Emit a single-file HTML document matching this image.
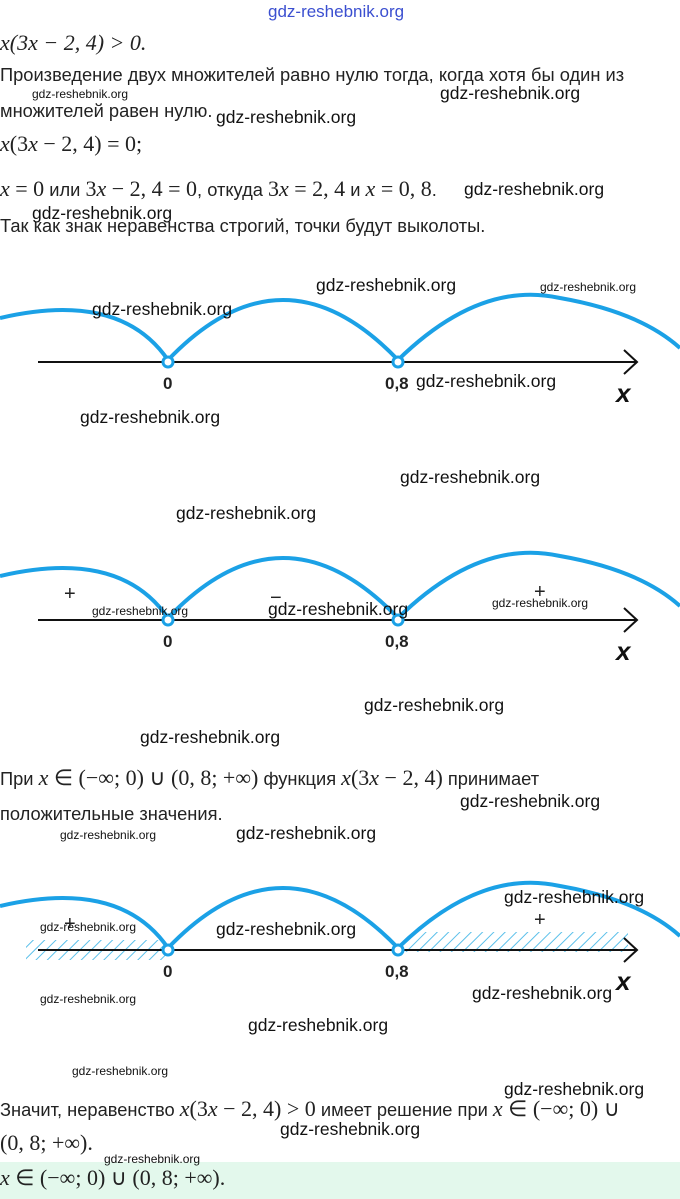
<!DOCTYPE html>
<html><head><meta charset="utf-8"><style>
body{margin:0;width:680px;height:1199px;background:#fff;position:relative;overflow:hidden;font-family:"Liberation Sans",sans-serif;color:#222}
.t{position:absolute;left:0;font-size:18.3px;white-space:nowrap}
.m{font-family:"Liberation Serif",serif;font-size:22px}
.w{position:absolute;font-family:"Liberation Sans",sans-serif;color:#111;white-space:nowrap}
.s{font-size:12px}.b{font-size:17.5px}
svg{position:absolute;left:0}
</style></head><body>
<div class="w" style="left:268px;top:2px;font-size:17px;color:#3b4fd0">gdz-reshebnik.org</div>
<div class="t m" style="top:30px;font-style:italic">x(3x − 2, 4) &gt; 0.</div>
<div class="t" style="top:64px">Произведение двух множителей равно нулю тогда, когда хотя бы один из</div>
<div class="t" style="top:100px">множителей равен нулю.</div>
<div class="t m" style="top:131px"><i>x</i>(3<i>x</i> − 2, 4) = 0;</div>
<div class="t" style="top:176px"><span class="m"><i>x</i> = 0</span> или <span class="m">3<i>x</i> − 2, 4 = 0</span>, откуда <span class="m">3<i>x</i> = 2, 4</span> и <span class="m"><i>x</i> = 0, 8</span>.</div>
<div class="t" style="top:215px">Так как знак неравенства строгий, точки будут выколоты.</div>

<svg width="680" height="1199" viewBox="0 0 680 1199">
<defs><pattern id="h" width="8" height="8" patternUnits="userSpaceOnUse" patternTransform="rotate(45)"><rect width="8" height="8" fill="#fff"/><line x1="0" y1="0" x2="0" y2="8" stroke="#5bc0ea" stroke-width="2"/></pattern></defs>
<g id="d">
<path d="M0 318 Q120 290 168 360" fill="none" stroke="#1ba1e6" stroke-width="4"/>
<path d="M168 360 Q283 240 398 360" fill="none" stroke="#1ba1e6" stroke-width="4"/>
<path d="M398 360 Q480 280 560 298 Q640 312 680 348" fill="none" stroke="#1ba1e6" stroke-width="4"/>
<line x1="38" y1="362" x2="636" y2="362" stroke="#111" stroke-width="2"/>
<path d="M624 350 L637 362 L624 374" fill="none" stroke="#111" stroke-width="2"/>
<circle cx="168" cy="362" r="5" fill="#fff" stroke="#1ba1e6" stroke-width="3"/>
<circle cx="398" cy="362" r="5" fill="#fff" stroke="#1ba1e6" stroke-width="3"/>
<text x="163" y="389" font-family="Liberation Sans" font-weight="bold" font-size="17" fill="#222">0</text>
<text x="385" y="389" font-family="Liberation Sans" font-weight="bold" font-size="17" fill="#222">0,8</text>
<text x="616" y="402" font-family="Liberation Sans" font-weight="bold" font-style="italic" font-size="26" fill="#111">x</text>
</g>
<g transform="translate(0,258)">
<use href="#d"/>
<text x="64" y="342" font-size="20" font-family="Liberation Sans" fill="#222">+</text>
<text x="270" y="346" font-size="20" font-family="Liberation Sans" fill="#222">−</text>
<text x="534" y="340" font-size="20" font-family="Liberation Sans" fill="#222">+</text>
</g>
<g transform="translate(0,588)">
<rect x="26" y="352" width="140" height="20" fill="url(#h)"/>
<rect x="404" y="344" width="224" height="20" fill="url(#h)"/>
<use href="#d"/>
<text x="64" y="342" font-size="20" font-family="Liberation Sans" fill="#222">+</text>
<text x="534" y="338" font-size="20" font-family="Liberation Sans" fill="#222">+</text>
</g>
</svg>

<div class="t" style="top:765px">При <span class="m"><i>x</i> ∈ (−∞; 0) ∪ (0, 8; +∞)</span> функция <span class="m"><i>x</i>(3<i>x</i> − 2, 4)</span> принимает</div>
<div class="t" style="top:803px">положительные значения.</div>
<div class="t" style="top:1096px">Значит, неравенство <span class="m"><i>x</i>(3<i>x</i> − 2, 4) &gt; 0</span> имеет решение при <span class="m"><i>x</i> ∈ (−∞; 0) ∪</span></div>
<div class="t m" style="top:1130px">(0, 8; +∞).</div>
<div style="position:absolute;left:0;top:1162px;width:680px;height:37px;background:#e3f8ec"></div>
<div class="t m" style="top:1165px"><i>x</i> ∈ (−∞; 0) ∪ (0, 8; +∞).</div>

<div class="w s" style="left:32px;top:87px">gdz-reshebnik.org</div>
<div class="w b" style="left:440px;top:83px">gdz-reshebnik.org</div>
<div class="w b" style="left:216px;top:107px">gdz-reshebnik.org</div>
<div class="w b" style="left:464px;top:179px">gdz-reshebnik.org</div>
<div class="w b" style="left:32px;top:203px">gdz-reshebnik.org</div>
<div class="w b" style="left:316px;top:275px">gdz-reshebnik.org</div>
<div class="w s" style="left:540px;top:280px">gdz-reshebnik.org</div>
<div class="w b" style="left:92px;top:299px">gdz-reshebnik.org</div>
<div class="w b" style="left:416px;top:371px">gdz-reshebnik.org</div>
<div class="w b" style="left:80px;top:407px">gdz-reshebnik.org</div>
<div class="w b" style="left:400px;top:467px">gdz-reshebnik.org</div>
<div class="w b" style="left:176px;top:503px">gdz-reshebnik.org</div>
<div class="w s" style="left:92px;top:604px">gdz-reshebnik.org</div>
<div class="w b" style="left:268px;top:599px">gdz-reshebnik.org</div>
<div class="w s" style="left:492px;top:596px">gdz-reshebnik.org</div>
<div class="w b" style="left:364px;top:695px">gdz-reshebnik.org</div>
<div class="w b" style="left:140px;top:727px">gdz-reshebnik.org</div>
<div class="w b" style="left:460px;top:791px">gdz-reshebnik.org</div>
<div class="w s" style="left:60px;top:828px">gdz-reshebnik.org</div>
<div class="w b" style="left:236px;top:823px">gdz-reshebnik.org</div>
<div class="w b" style="left:504px;top:887px">gdz-reshebnik.org</div>
<div class="w s" style="left:40px;top:920px">gdz-reshebnik.org</div>
<div class="w b" style="left:216px;top:919px">gdz-reshebnik.org</div>
<div class="w s" style="left:40px;top:992px">gdz-reshebnik.org</div>
<div class="w b" style="left:472px;top:983px">gdz-reshebnik.org</div>
<div class="w b" style="left:248px;top:1015px">gdz-reshebnik.org</div>
<div class="w s" style="left:72px;top:1064px">gdz-reshebnik.org</div>
<div class="w b" style="left:504px;top:1079px">gdz-reshebnik.org</div>
<div class="w b" style="left:280px;top:1119px">gdz-reshebnik.org</div>
<div class="w s" style="left:104px;top:1152px">gdz-reshebnik.org</div>
</body></html>
